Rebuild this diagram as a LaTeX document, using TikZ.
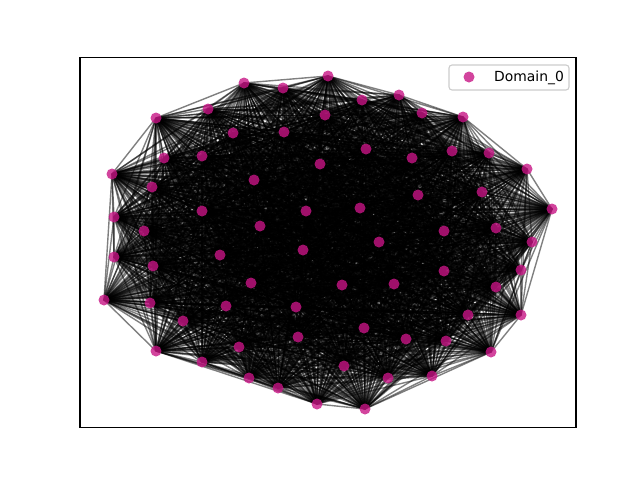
\documentclass[tikz,border=0pt]{standalone}
\usepackage{fontspec}
\setmainfont{DejaVu Sans}
\definecolor{mvred}{RGB}{199,21,133}
\definecolor{legedge}{RGB}{204,204,204}
\begin{document}
\begin{tikzpicture}[x=1pt,y=-1pt,
  edge/.style={draw=black,draw opacity=0.5,line width=1.39pt},
  vertex/.style={circle,fill=mvred,fill opacity=0.8,inner sep=0pt,minimum size=11pt,draw=none},
  frame/.style={draw=black,line width=1.1pt},
  legendbox/.style={draw=legedge,fill=white,fill opacity=0.8,line width=1.1pt,rounded corners=3pt}]
\useasboundingbox (0,0) rectangle (640,480);
\foreach \k/\x/\y in {
1/244/83, 2/283/88, 3/328/76, 4/362/100, 5/399/95, 6/422/113, 7/463/117,
8/208/109, 9/156/118, 10/325/115, 11/233/133, 12/284/132, 13/366/149, 14/412/158,
15/452/151, 16/489/153, 17/527/169, 18/164/158, 19/202/156, 20/320/164, 21/254/180,
22/112/174, 23/152/187, 24/418/195, 25/482/192, 26/552/209, 27/114/217, 28/202/211,
29/306/211, 30/360/208, 31/260/226, 32/144/231, 33/444/231, 34/496/228, 35/532/242,
36/114/257, 37/220/255, 38/303/250, 39/379/242, 40/153/266, 41/444/271, 42/521/270,
43/104/300, 44/251/283, 45/342/285, 46/394/284, 47/496/287, 48/150/303, 49/226/306,
50/296/307, 51/468/315, 52/521/315, 53/183/321, 54/364/328, 55/406/339, 56/446/341,
57/298/337, 58/239/347, 59/156/351, 60/491/352, 61/202/362, 62/344/366, 63/249/378,
64/278/388, 65/388/378, 66/432/376, 67/317/404, 68/365/409}
  {\coordinate (p\k) at (\x,\y);}
\foreach \i in {1,...,68}{
  \foreach \j in {1,...,68}{
    \ifnum\i<\j \draw[edge] (p\i) -- (p\j); \fi
  }
}
\foreach \k in {1,...,68}{\node[vertex] (v\k) at (p\k) {};}
\draw[frame] (80,57.6) rectangle (576,427.2);
\draw[legendbox] (449,65) rectangle (569,90);
\node[vertex] (legmark) at (469,77) {};
\node[anchor=base west,inner sep=0pt,font=\fontsize{13.9}{16}\selectfont] (legtext) at (494,81) {Domain\_0};
\end{tikzpicture}
\end{document}
